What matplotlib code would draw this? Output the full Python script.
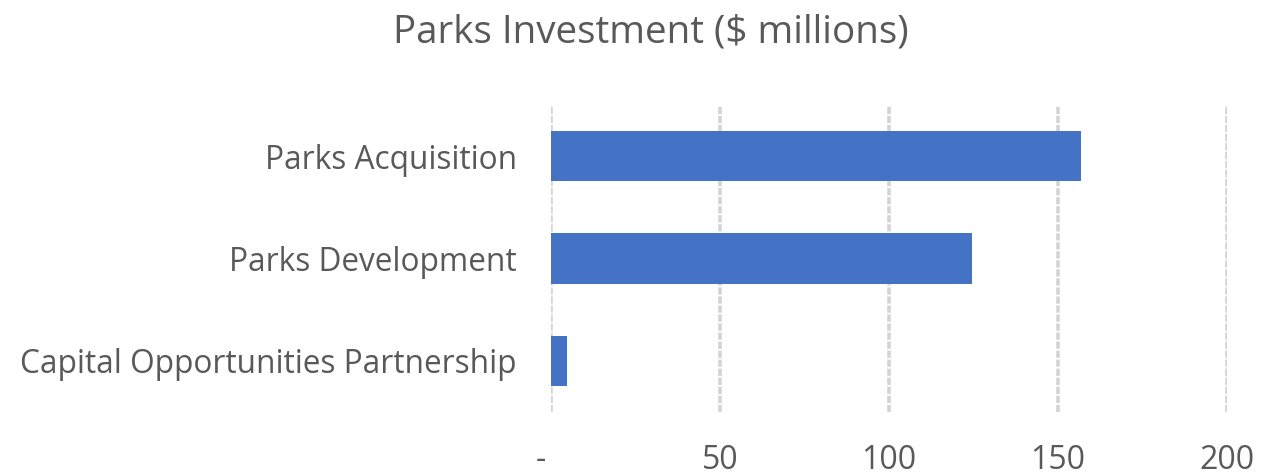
import matplotlib
matplotlib.use("Agg")
import matplotlib.pyplot as plt
import matplotlib.transforms as mtransforms

categories = ["Parks Acquisition", "Parks Development", "Capital Opportunities Partnership"]
values = [156.7, 124.6, 4.6]
tick_values = [0, 50, 100, 150, 200]
tick_labels = ["-", "50", "100", "150", "200"]
title = "Parks Investment ($ millions)"

plt.rcParams['font.family'] = ['Open Sans', 'DejaVu Sans']
text_color = "#595959"

fig = plt.figure(figsize=(12.78, 4.75), dpi=100)
ax = fig.add_axes([551/1278, 1 - 412/475, (1227-551)/1278, (412-105)/475])

ypos = list(range(len(categories)))
ax.barh(ypos, values, height=0.49, color="#4472C4", zorder=3)
ax.set_ylim(len(categories) - 0.5, -0.5)
ax.set_xlim(0, 200)
ax.set_yticks(ypos)
ax.set_yticklabels(categories, fontsize=22.8, color=text_color)
ax.set_xticks(tick_values)
ax.set_xticklabels(tick_labels, fontsize=23, color=text_color)
ax.tick_params(axis='y', length=0, pad=24.5)
ax.tick_params(axis='x', length=0, pad=23)
for s in ax.spines.values():
    s.set_visible(False)
ax.grid(axis='x', color="#d4d4d4", linestyle=(0, (2.0, 0.5)), linewidth=2.6, zorder=0)
ax.grid(axis='y', visible=False)

lbl = ax.get_xticklabels()[0]
lbl.set_transform(lbl.get_transform() + mtransforms.ScaledTranslation(-10/100, 0, fig.dpi_scale_trans))

fig.text(651/1278, 1 - 32/475, title, ha='center', va='center', fontsize=27.8, color=text_color)

fig.savefig("out.png", dpi=100)
